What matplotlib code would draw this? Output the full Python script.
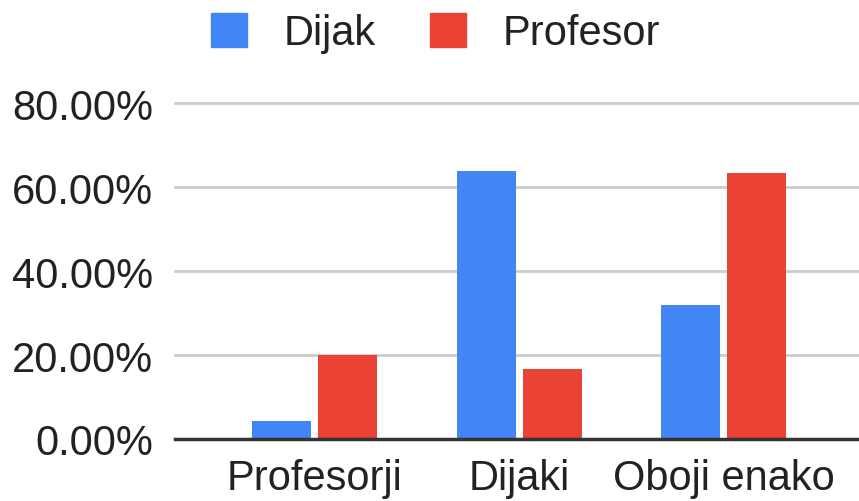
import matplotlib
matplotlib.use("Agg")
import matplotlib.pyplot as plt
import numpy as np
from matplotlib.patches import Patch

categories = ["Profesorji", "Dijaki", "Oboji enako"]
series_names = ["Dijak", "Profesor"]
dijak = [4.26, 63.83, 31.91]
profesor = [20.0, 16.67, 63.33]
yticks = [0, 20, 40, 60, 80]
ytick_labels = ["0.00%", "20.00%", "40.00%", "60.00%", "80.00%"]

colors = ["#4285F4", "#EA4335"]

plt.rcParams['font.family'] = ['Liberation Sans', 'DejaVu Sans']

fig = plt.figure(figsize=(8.59, 5.02), dpi=100)
ax = fig.add_axes([175/859, 1-440/502, 1-175/859, 336/502])

x = np.arange(len(categories))
w = 59/204.5
off = 33/204.5
ax.bar(x - off, dijak, width=w, color=colors[0], zorder=3)
ax.bar(x + off, profesor, width=w, color=colors[1], zorder=3)

ax.set_xlim(-(314.5-175)/204.5, 2 + (859-723.5)/204.5)
ax.set_ylim(0, 80)
for t in yticks[1:]:
    ax.axhline(t, color="#cccccc", lw=2, zorder=1, clip_on=False)
ax.axhline(0, color="#333333", lw=2.5, zorder=4, clip_on=False)

ax.set_yticks(yticks)
ax.set_yticklabels(ytick_labels, fontsize=30, color="#222222")
ax.set_xticks(x)
ax.set_xticklabels(categories, fontsize=30, color="#222222")
ax.tick_params(axis='y', length=0, pad=16)
ax.tick_params(axis='x', length=0, pad=14)
for s in ax.spines.values():
    s.set_visible(False)

handles = [Patch(color=c) for c in colors]
fig.legend(handles, series_names, loc="center", bbox_to_anchor=(0.507, 0.932),
           ncol=2, frameon=False, fontsize=30, handlelength=0.87, handleheight=0.87,
           handletextpad=0.88, columnspacing=1.3, labelcolor="#222222")

fig.savefig("out.png", dpi=100)
